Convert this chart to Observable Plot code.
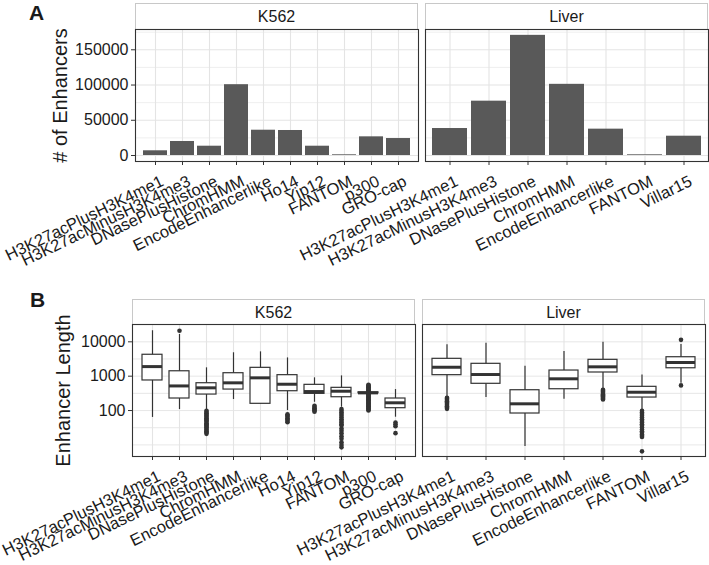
<!DOCTYPE html>
<html><head><meta charset="utf-8">
<script src="https://cdn.jsdelivr.net/npm/d3@7"></script>
<script src="https://cdn.jsdelivr.net/npm/@observablehq/plot@0.6"></script>
<style>
body{margin:0;background:#fff;}
#root{position:relative;width:709px;height:565px;background:#fff;font-family:"Liberation Sans",Arial,Helvetica,sans-serif;color:#1a1a1a;overflow:hidden}
.strip{position:absolute;box-sizing:border-box;border:1px solid #c8c8c8;border-bottom:none;background:#fff;font-size:16px;text-align:center;line-height:25px}
.tag{position:absolute;font-weight:bold;font-size:21px;line-height:21px}
</style></head><body><div id="root"></div>
<script>
// ---------- data ----------
const k562Methods = ["H3K27acPlusH3K4me1","H3K27acMinusH3K4me3","DNasePlusHistone","ChromHMM","EncodeEnhancerlike","Ho14","Yip12","FANTOM","p300","GRO-cap"];
const k562Counts = [6700, 19900, 13200, 100500, 35900, 35500, 13200, 1000, 26500, 24100];
const liverMethods = ["H3K27acPlusH3K4me1","H3K27acMinusH3K4me3","DNasePlusHistone","ChromHMM","EncodeEnhancerlike","FANTOM","Villar15"];
const liverCounts = [38300, 77100, 170500, 101000, 37400, 1000, 27400];

// box statistics (Enhancer Length)
const k562Lo  = [63, 107, 105, 209, 157, 100, 174, 125, 310, 64];
const k562Q1  = [750, 224, 292, 408, 157, 365, 306, 244, 318, 117];
const k562Med = [1900, 520, 458, 640, 895, 583, 357, 365, 327, 168];
const k562Q3  = [4200, 1390, 624, 1220, 1750, 1070, 560, 458, 338, 224];
const k562Hi  = [21000, 16300, 1750, 4800, 5100, 3400, 895, 1020, 345, 408];
const k562Outliers = [
  [],
  [21000],
  [21,23,25,27,29,32,34,37,40,43,47,51,55,60,65,70,76,83,90,98],
  [],
  [],
  [46,50,55,60,66,72,78],
  [92,100,108,117,127,138],
  [8.5,10,12,15,18,22,26,30,37,40,45,50,56,63,70,79,88,98,110],
  [100,106,112,119,126,133,141,150,159,168,178,189,200,212,224,238,252,267,283,300,360,380,400,425,450,475,505,535,560],
  [22,35,40,45]
];
const liverLo  = [250, 239, 9.0, 213, 430, 100, 620];
const liverQ1  = [1070, 600, 82, 417, 1280, 239, 1700];
const liverMed = [1820, 1117, 157, 838, 1870, 341, 2500];
const liverQ3  = [3200, 2290, 390, 1460, 2990, 490, 3560];
const liverHi  = [8200, 9100, 1950, 5200, 9730, 1090, 8400];
const liverOutliers = [
  [112,122,133,145,158,172,187,204,222,235],
  [],
  [],
  [],
  [210,225,240,260,280,300,325,350,375,400],
  [6.5,17,18.5,20,22.5,25,28,32,36,40,45,50,56,63,70,79,88,98],
  [540,11400]
];

const yTicksA = [0, 50000, 100000, 150000];
const yMinorA = [25000, 75000, 125000, 175000];
const yTicksB = [100, 1000, 10000];
const yGridB  = [10, 31.62, 100, 316.2, 1000, 3162, 10000, 31623];

// ---------- style ----------
const FONT = '"Liberation Sans", Arial, Helvetica, sans-serif';
const INK = "#333333";
const GRID = "#e4e4e4";
const baseStyle = {background:"none", fontFamily: FONT, fontSize:"16px", color:"#1a1a1a", overflow:"visible"};

function xAxes() {
  return [
    Plot.axisX({tickSize:4, stroke: INK, fill:"none", label:null}),
    Plot.axisX({tickRotate:-26, textAnchor:"end", lineAnchor:"top", tickSize:4, tickPadding:3, dx:4, dy:6, fontSize:16.5, stroke:"none", fill:"#1a1a1a", label:null})
  ];
}

function panelA(methods, counts, showY, ml) {
  const rows = methods.map((m,i)=>({method:m, count:counts[i]}));
  return Plot.plot({
    width: ml + 284, height: 290, marginLeft: ml, marginRight: 1, marginTop: 29, marginBottom: 129,
    style: baseStyle,
    x: {type:"band", domain: methods, paddingInner:0.1, paddingOuter:0.15},
    y: {domain:[-8500, 178800], axis: null},
    marks: [
      Plot.gridY(yMinorA, {stroke:GRID, strokeOpacity:1, strokeWidth:0.6}),
      Plot.gridY(yTicksA, {stroke:GRID, strokeOpacity:1, strokeWidth:1.1}),
      Plot.gridX({stroke:GRID, strokeOpacity:1, strokeWidth:1.1}),
      Plot.barY(rows, {x:"method", y:"count", fill:"#595959"}),
      Plot.frame({stroke:INK, strokeWidth:1.1}),
      showY ? Plot.axisY({ticks: yTicksA, tickFormat: d=>String(d), tickSize:4, tickPadding:3, stroke: INK, label:null}) : null,
      showY ? Plot.text(["# of Enhancers"], {text:d=>d, frameAnchor:"left", textAnchor:"middle", lineAnchor:"middle", rotate:-90, dx:-75, fontSize:20}) : null,
      ...xAxes()
    ].filter(Boolean)
  });
}

function panelB(methods, lo, q1, med, q3, hi, outliers, showY, ml) {
  const rows = methods.map((m,i)=>({method:m, lo:lo[i], q1:q1[i], med:med[i], q3:q3[i], hi:hi[i]}));
  const outs = outliers.flatMap((arr,i)=>arr.map(v=>({method:methods[i], value:v})));
  return Plot.plot({
    width: ml + 284, height: 275, marginLeft: ml, marginRight: 1, marginTop: 34, marginBottom: 109,
    style: baseStyle,
    x: {type:"band", domain: methods, paddingInner:0.25, paddingOuter:0.225},
    y: {type:"log", domain:[4.6, 31900], axis: null},
    marks: [
      Plot.gridY(yGridB, {stroke:GRID, strokeOpacity:1, strokeWidth:0.9}),
      Plot.gridX({stroke:GRID, strokeOpacity:1, strokeWidth:1.1}),
      Plot.ruleX(rows, {x:"method", y1:"lo", y2:"hi", stroke:INK, strokeWidth:1.2}),
      Plot.barY(rows, {x:"method", y1:"q1", y2:"q3", fill:"white", stroke:INK, strokeWidth:1.2}),
      Plot.tickY(rows, {x:"method", y:"med", stroke:INK, strokeWidth:3}),
      Plot.dot(outs, {x:"method", y:"value", r:2.3, fill:INK, stroke:"none"}),
      Plot.frame({stroke:INK, strokeWidth:1.1}),
      showY ? Plot.axisY({ticks: yTicksB, tickFormat: d=>String(d), tickSize:4, tickPadding:3, stroke: INK, label:null}) : null,
      showY ? Plot.text(["Enhancer Length"], {text:d=>d, frameAnchor:"left", textAnchor:"middle", lineAnchor:"middle", rotate:-90, dx:-69, fontSize:20}) : null,
      ...xAxes()
    ].filter(Boolean)
  });
}

// ---------- layout ----------
const root = document.getElementById("root");
function place(el, left, top) {
  el.style.position = "absolute";
  el.style.left = left + "px";
  el.style.top = top + "px";
  root.appendChild(el);
}
function div(cls, text, left, top, w, h) {
  const d = document.createElement("div");
  d.className = cls;
  d.textContent = text;
  if (w) d.style.width = w + "px";
  if (h) d.style.height = h + "px";
  place(d, left, top);
}

div("strip", "K562", 135, 3, 283, 26);
div("strip", "Liver", 425, 3, 283, 26);
div("strip", "K562", 132, 299, 283, 25);
div("strip", "Liver", 422, 299, 283, 25);
div("tag", "A", 29, 1.5);
div("tag", "B", 30, 289);

place(panelA(k562Methods, k562Counts, true, 135), 0, 0);
place(panelA(liverMethods, liverCounts, false, 130), 295, 0);
place(panelB(k562Methods, k562Lo, k562Q1, k562Med, k562Q3, k562Hi, k562Outliers, true, 132), 0, 290);
place(panelB(liverMethods, liverLo, liverQ1, liverMed, liverQ3, liverHi, liverOutliers, false, 130), 292, 290);
</script></body></html>
